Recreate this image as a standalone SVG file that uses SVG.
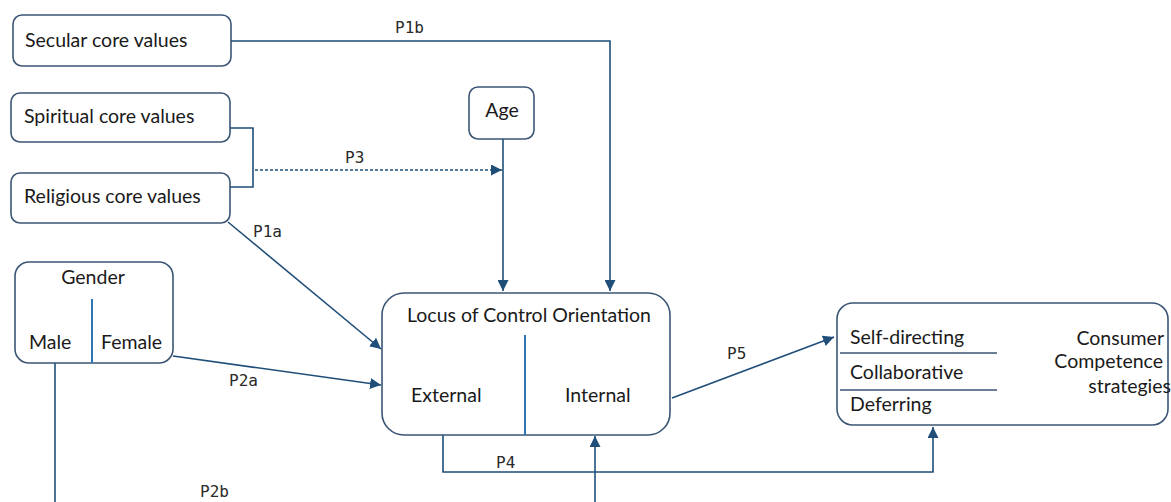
<svg xmlns="http://www.w3.org/2000/svg" width="1171" height="502" viewBox="0 0 1171 502">
<defs>
<marker id="arr" viewBox="0 0 10 10" refX="10" refY="5" markerWidth="11" markerHeight="11" markerUnits="userSpaceOnUse" orient="auto">
<path d="M0,0 L10,5 L0,10 z" fill="#1f4e79"/>
</marker>
</defs>
<style>
.box{fill:#ffffff;stroke:#3b5574;stroke-width:1.6}
.div{stroke:#2e75b6;stroke-width:2;fill:none}
.t{font-family:Lato,"Open Sans","Liberation Sans",sans-serif;font-size:19.5px;fill:#1a1a1a}
.c{fill:none;stroke:#1f4e79;stroke-width:1.6}
.lbl{font-family:"DejaVu Sans Mono","Liberation Mono",monospace;font-size:16px;fill:#2a2a2a}
</style>
<rect width="1171" height="502" fill="#ffffff"/>
<g id="secular">
<rect class="box" x="13" y="15" width="218" height="51" rx="9"/>
<text class="t" x="25" y="47">Secular core values</text>
</g>
<g id="spiritual">
<rect class="box" x="11" y="93" width="219" height="49" rx="9"/>
<text class="t" x="24" y="123">Spiritual core values</text>
</g>
<g id="religious">
<rect class="box" x="11" y="173" width="219" height="50" rx="9"/>
<text class="t" x="24" y="203">Religious core values</text>
</g>
<g id="age">
<rect class="box" x="469" y="87" width="65" height="52" rx="9"/>
<text class="t" x="502" y="117" text-anchor="middle">Age</text>
</g>
<g id="gender">
<rect class="box" x="15" y="262" width="158" height="101" rx="14"/>
<text class="t" x="93" y="284" text-anchor="middle">Gender</text>
<line class="div" x1="92" y1="299" x2="92" y2="363"/>
<text class="t" x="29" y="349">Male</text>
<text class="t" x="101" y="349">Female</text>
</g>
<g id="locus">
<rect class="box" x="382" y="293" width="288" height="142" rx="22"/>
<text class="t" x="529" y="322" text-anchor="middle">Locus of Control Orientation</text>
<line class="div" x1="525" y1="335" x2="525" y2="435"/>
<text class="t" x="411" y="402">External</text>
<text class="t" x="565" y="402">Internal</text>
</g>
<g id="consumer">
<rect class="box" x="837" y="303" width="331" height="122" rx="16"/>
<text class="t" x="850" y="344">Self-directing</text>
<line x1="840" y1="353" x2="997" y2="353" stroke="#3b5574" stroke-width="1.6"/>
<text class="t" x="850" y="379">Collaborative</text>
<line x1="840" y1="390" x2="997" y2="390" stroke="#3b5574" stroke-width="1.6"/>
<text class="t" x="850" y="411">Deferring</text>
<text class="t" x="1164" y="345" text-anchor="end">Consumer</text>
<text class="t" x="1163" y="368" text-anchor="end">Competence</text>
<text class="t" x="1171" y="393" text-anchor="end">strategies</text>
</g>
<g id="connectors">
<polyline class="c" points="231,41 610,41 610,291" marker-end="url(#arr)"/>
<text class="lbl" x="395" y="33">P1b</text>
<polyline class="c" points="230,128 253,128 253,187 230,187"/>
<line class="c" x1="255" y1="170" x2="502" y2="170" stroke-dasharray="3,2" marker-end="url(#arr)"/>
<text class="lbl" x="345" y="163">P3</text>
<line class="c" x1="503" y1="139" x2="503" y2="291" marker-end="url(#arr)"/>
<line class="c" x1="228" y1="222" x2="381" y2="349" marker-end="url(#arr)"/>
<text class="lbl" x="253" y="237">P1a</text>
<line class="c" x1="173" y1="356" x2="381" y2="385" marker-end="url(#arr)"/>
<text class="lbl" x="229" y="386">P2a</text>
<line class="c" x1="55" y1="363" x2="55" y2="502"/>
<text class="lbl" x="200" y="497">P2b</text>
<line class="c" x1="595" y1="502" x2="595" y2="436" marker-end="url(#arr)"/>
<polyline class="c" points="443,435 443,472 933,472 933,427" marker-end="url(#arr)"/>
<text class="lbl" x="496" y="468">P4</text>
<line class="c" x1="672" y1="398" x2="834" y2="337" marker-end="url(#arr)"/>
<text class="lbl" x="727" y="359">P5</text>
</g>
</svg>
